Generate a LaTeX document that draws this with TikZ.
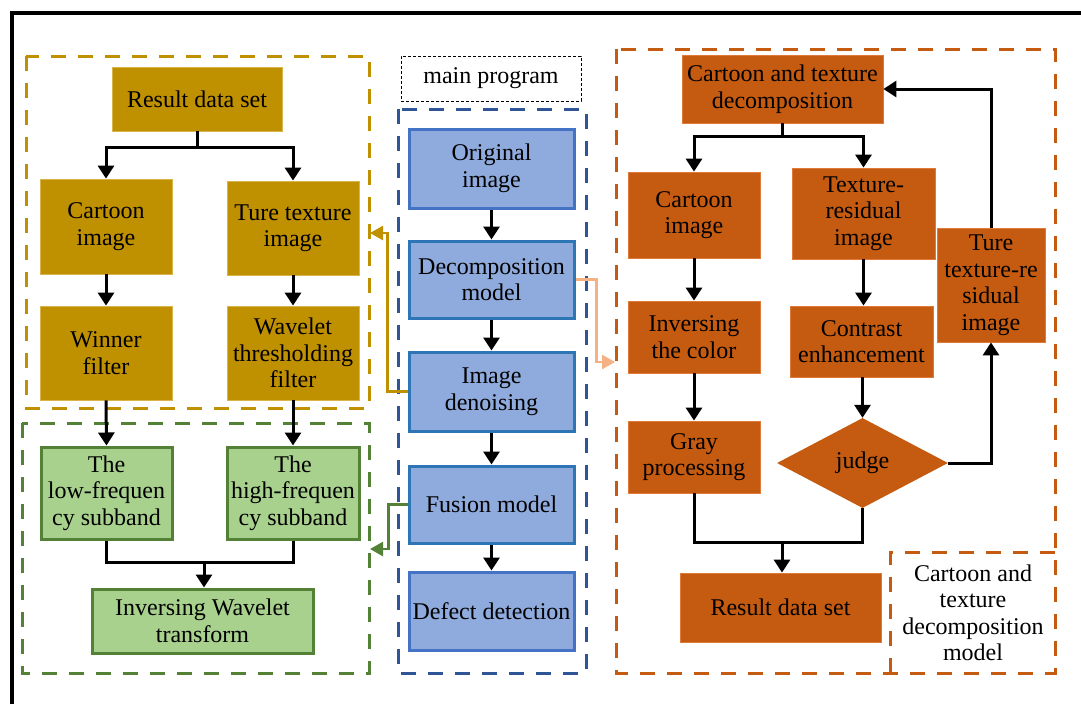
\documentclass[tikz,border=0pt]{standalone}
\usepackage{fontspec}
\setmainfont{Liberation Serif}
\usetikzlibrary{arrows.meta,shapes.geometric,calc}
\definecolor{goldc}{HTML}{BF9000}
\definecolor{goldl}{HTML}{D9B44A}
\definecolor{orc}{HTML}{C55A11}
\definecolor{orl}{HTML}{E07A3A}
\definecolor{bluef}{HTML}{8FAADC}
\definecolor{bluea}{HTML}{4472C4}
\definecolor{blueb}{HTML}{2E75B6}
\definecolor{blued}{HTML}{2F5597}
\definecolor{greenf}{HTML}{A9D18E}
\definecolor{greend}{HTML}{538135}
\definecolor{peach}{HTML}{F4B183}
\begin{document}
\begin{tikzpicture}[x=1pt,y=-1pt,
  font=\fontsize{24}{26.5}\selectfont,
  base/.style={rectangle,inner sep=0pt,align=center},
  goldbox/.style={base,fill=goldc,draw=goldl,line width=0.8pt},
  orbox/.style={base,fill=orc,draw=orl,line width=0.8pt},
  bluebox/.style={base,fill=bluef,draw=bluea,line width=3pt},
  blueboxb/.style={base,fill=bluef,draw=blueb,line width=3pt},
  greenbox/.style={base,fill=greenf,draw=greend,line width=3pt},
  arr/.style={draw=black,line width=3pt,-{Triangle[width=16pt,length=13pt]}},
  plain/.style={draw=black,line width=3pt},
  dashbox/.style={line width=3pt,dash pattern=on 15pt off 12pt},
  colarr/.style={line width=2.5pt,-{Triangle[width=14pt,length=13pt]}}
]
\useasboundingbox (0,0) rectangle (1081,704);
% outer frame
\draw[line width=4pt] (12,704) -- (12,13) -- (1081,13);

% dashed group frames
\draw[dashbox,draw=goldc] (26,56) rectangle (369,408);
\draw[dashbox,draw=greend] (22,423) rectangle (369,673);
\draw[dashbox,draw=blued] (398,109) rectangle (586,673);
\draw[dashbox,draw=orc] (616,49) rectangle (1055,673);

% main program label
\node[base,draw=black,line width=0.8pt,dash pattern=on 3pt off 2pt,minimum width=180pt,minimum height=45pt] (mp) at (491,78.5) {main program};

% gold nodes
\node[goldbox,minimum width=170pt,minimum height=64pt] (gRes) at (197,99) {Result data set};
\node[goldbox,minimum width=132pt,minimum height=95pt] (gCart) at (106,226.5) {Cartoon\\image};
\node[goldbox,minimum width=132pt,minimum height=94pt] (gTure) at (293,228) {Ture texture\\image};
\node[goldbox,minimum width=132pt,minimum height=94pt] (gWin) at (106,353) {Winner\\filter};
\node[goldbox,minimum width=132pt,minimum height=94pt] (gWav) at (293,353) {Wavelet\\thresholding\\filter};

% green nodes
\node[greenbox,minimum width=131pt,minimum height=92pt] (low) at (106.5,493) {The\\low-frequen\\cy subband};
\node[greenbox,minimum width=132pt,minimum height=92pt] (high) at (293,493) {The\\high-frequen\\cy subband};
\node[greenbox,minimum width=221pt,minimum height=64pt] (inv) at (202.5,621) {Inversing Wavelet\\transform};

% blue nodes
\node[bluebox,minimum width=165pt,minimum height=79pt] (orig) at (491.5,168.5) {Original\\image};
\node[blueboxb,minimum width=165pt,minimum height=77pt] (dec) at (491.5,279.5) {Decomposition\\model};
\node[blueboxb,minimum width=165pt,minimum height=79pt] (den) at (491.5,391.5) {Image\\denoising};
\node[blueboxb,minimum width=165pt,minimum height=77pt] (fus) at (491.5,504.5) {Fusion model};
\node[bluebox,minimum width=165pt,minimum height=78pt] (def) at (491.5,611) {Defect detection};

% orange nodes
\node[orbox,minimum width=201pt,minimum height=68pt] (oTop) at (782.5,89) {Cartoon and texture\\decomposition};
\node[orbox,minimum width=132pt,minimum height=86pt] (oCart) at (694,215) {Cartoon\\image};
\node[orbox,minimum width=143pt,minimum height=91pt] (oTex) at (863.5,213.5) {Texture-\\residual\\image};
\node[orbox,minimum width=108pt,minimum height=114pt] (oTure) at (991,285) {Ture\\texture-re\\sidual\\image};
\node[orbox,minimum width=132pt,minimum height=72pt] (oInv) at (694,337) {Inversing\\the color};
\node[orbox,minimum width=143pt,minimum height=71pt] (oCon) at (861.5,341.5) {Contrast\\enhancement};
\node[orbox,minimum width=132pt,minimum height=72pt] (oGray) at (694,457) {Gray\\processing};
\node[diamond,fill=orc,inner sep=0pt,minimum width=171pt,minimum height=90pt] (judge) at (862.5,463) {judge};
\node[orbox,minimum width=201pt,minimum height=69pt] (oRes) at (780.5,607.5) {Result data set};

% label box
\node[base,minimum width=164pt,minimum height=120pt] (lbl) at (973,613) {Cartoon and\\texture\\decomposition\\model};
\draw[dashbox,draw=orc] (lbl.south west) |- (lbl.north east);

% gold arrows
\draw[plain] (gRes.south) -- ++(0,16) coordinate (gj);
\draw[arr] (gj) -| (gCart.north);
\draw[arr] (gj) -| (gTure.north);
\draw[arr] (gCart.south) -- (gWin.north);
\draw[arr] (gTure.south) -- (gWav.north);
\draw[arr] (gWin.south) -- (low.north);
\draw[arr] (gWav.south) -- (high.north);

% green merge
\coordinate (mj) at (204,562);
\draw[plain] (low.south) -- (low.south |- mj) -- (high.south |- mj) -- (high.south);
\draw[arr] (mj) -- (mj |- inv.north);

% blue chain
\draw[arr] (orig.south) -- (dec.north);
\draw[arr] (dec.south) -- (den.north);
\draw[arr] (den.south) -- (fus.north);
\draw[arr] (fus.south) -- (def.north);

% coloured connectors
\coordinate (gIn) at (370,233);
\coordinate (pIn) at (615,362);
\coordinate (grIn) at (370,549);
\draw[colarr,draw=goldc] (den.west) -- ++(-20,0) |- (gIn);
\draw[colarr,draw=peach] (dec.east) -- ++(21,0) |- (pIn);
\draw[colarr,draw=greend] (fus.west) -- ++(-19,0) |- (grIn);

% orange arrows
\draw[plain] (oTop.south) -- ++(0,13) coordinate (oj);
\draw[arr] (oj) -| (oCart.north);
\draw[arr] (oj) -| (oTex.north);
\draw[arr] (oCart.south) -- (oInv.north);
\draw[arr] (oInv.south) -- (oGray.north);
\draw[arr] (oTex.south) -- (oTex.south |- oCon.north);
\draw[arr] (oCon.south -| judge.north) -- (judge.north);
\draw[arr] (judge.east) -| (oTure.south);
\draw[arr] (oTure.north) |- (oTop.east);
\coordinate (rj) at (782,542);
\draw[plain] (oGray.south) -- (oGray.south |- rj) -- (judge.south |- rj) -- (judge.south);
\draw[arr] (rj) -- (rj |- oRes.north);
\end{tikzpicture}
\end{document}
